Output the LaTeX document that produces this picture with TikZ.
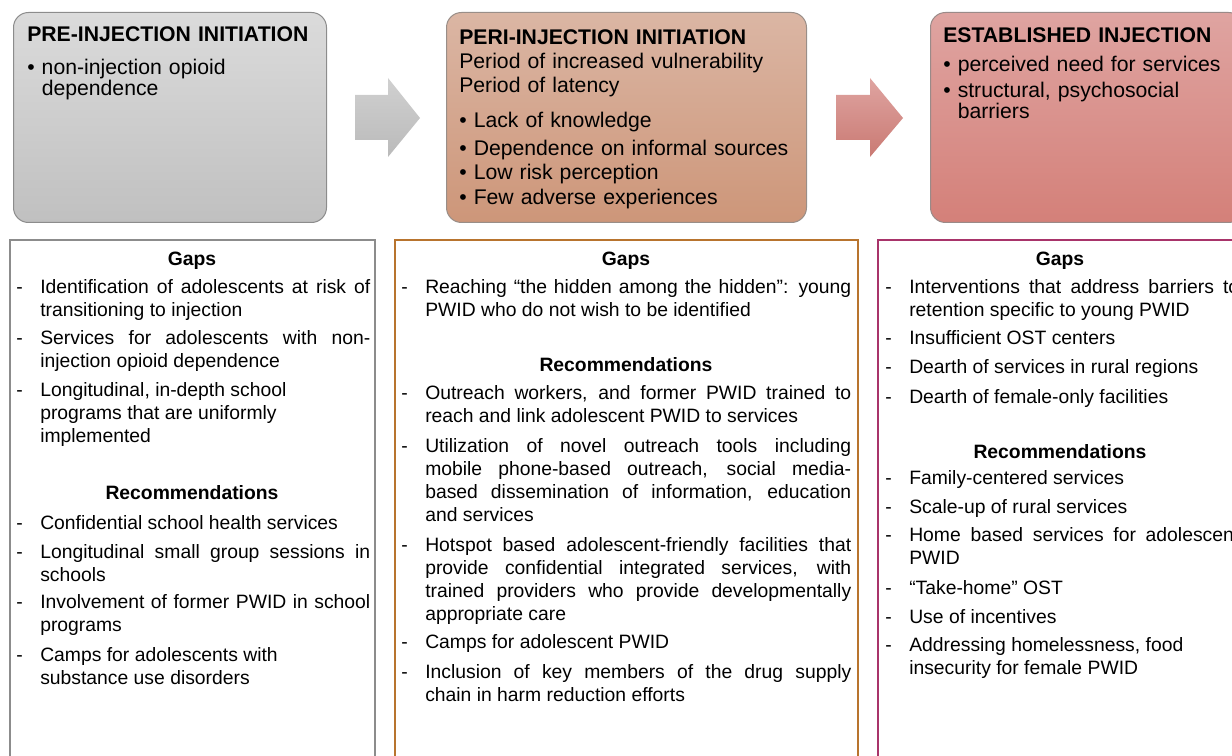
\documentclass[tikz,border=0pt]{standalone}
\usepackage{fontspec}
\setmainfont{Liberation Sans}
\usepackage{tikz}
\usetikzlibrary{positioning}
\definecolor{silvertop}{RGB}{219, 219, 219}
\definecolor{silverbot}{RGB}{192, 192, 192}
\definecolor{claytop}{RGB}{219, 182, 164}
\definecolor{claybot}{RGB}{205, 150, 121}
\definecolor{rosetop}{RGB}{223, 164, 161}
\definecolor{rosebot}{RGB}{212, 128, 121}
\definecolor{ash}{RGB}{140, 140, 140}
\definecolor{ochre}{RGB}{184, 116, 46}
\definecolor{plum}{RGB}{168, 52, 106}
\newcommand{\bul}{\textbullet\ }
\newcommand{\bulgap}{\phantom{\textbullet\ }}
\newcommand{\dashitem}[1]{\hangindent=18pt\hangafter=1\makebox[18pt][l]{-}#1\par}

\begin{document}
\begin{tikzpicture}[x=0.75pt, y=-0.75pt,
    stage/.style={draw, line width=0.75pt, rounded corners=11.25pt, anchor=north west,
                  minimum height=157.5pt, inner sep=0pt},
    stagetext/.style={anchor=base west, inner sep=0pt, text width=#1, align=left,
                  font=\fontsize{15.9}{15.75}\selectfont},
    panel/.style={draw, line width=1.5pt, anchor=north west, minimum height=402pt, inner sep=0pt},
    panelhead/.style={anchor=base, inner sep=0pt, font=\fontsize{14.5}{17.25}\selectfont\bfseries},
    panelitem/.style={anchor=base west, inner sep=0pt, text width=#1, align=justify,
                  font=\fontsize{14.5}{17.25}\selectfont}]
\useasboundingbox (0,0) rectangle (1232,756);
\clip (0,0) rectangle (1232,756);

% stages
\node[stage, draw=ash, top color=silvertop, bottom color=silverbot, minimum width=234.75pt]   (pre)  at ( 13,12) {};
\node[stage, draw=ash!80!claybot, top color=claytop, bottom color=claybot, minimum width=270pt] (peri) at (446,12) {};
\node[stage, draw=ash!80!rosebot, top color=rosetop, bottom color=rosebot, minimum width=234.75pt] (est) at (930,12) {};

\path[top color=silvertop!95!black, bottom color=silverbot!97!black]
    (355,95) -- (388,95) -- (388,78) -- (420,118) -- (388,157) -- (388,140) -- (355,140) -- cycle;
\path[top color=rosetop, bottom color=rosebot!95!black]
    (836,95) -- (870,95) -- (870,78) -- (903,118) -- (870,157) -- (870,140) -- (836,140) -- cycle;

\node[stagetext=224pt] (pretext) at (27,42)
    {\textbf{PRE-INJECTION INITIATION}\\[9pt]\bul non-injection opioid\\\bulgap dependence};
\node[stagetext=254pt] (peritext) at (459,45)
    {\textbf{PERI-INJECTION INITIATION}\\[2.25pt]Period of increased vulnerability\\[2.25pt]Period of latency\\[10.5pt]%
     \bul Lack of knowledge\\[5.25pt]\bul Dependence on informal sources\\[2.25pt]\bul Low risk perception\\[3pt]\bul Few adverse experiences};
\node[stagetext=217pt] (esttext) at (943,43)
    {\textbf{ESTABLISHED INJECTION}\\[6pt]\bul perceived need for services\\[3.75pt]\bul structural, psychosocial\\\bulgap barriers};

% gaps and recommendations
\node[panel, draw=ash,   minimum width=273.75pt] (prepanel)  at (  9,239) {};
\node[panel, draw=ochre, minimum width=347.25pt] (peripanel) at (394,239) {};
\node[panel, draw=plum,  minimum width=274.5pt]  (estpanel)  at (877,239) {};

\node[panelhead] (pregaps) at (192,265) {Gaps};
\node[panelitem=265.5pt] (pregap1) at (16,293) {\dashitem{Identification of adolescents at risk of\linebreak transitioning to injection}};
\node[panelitem=265.5pt] (pregap2) at (16,344) {\dashitem{Services for adolescents with non-\linebreak injection opioid dependence}};
\node[panelitem=265.5pt] (pregap3) at (16,396) {\dashitem{Longitudinal, in-depth school\newline programs that are uniformly\newline implemented}};
\node[panelhead] (prerecs) at (192,499) {Recommendations};
\node[panelitem=265.5pt] (prerec1) at (16,529) {\dashitem{Confidential school health services}};
\node[panelitem=265.5pt] (prerec2) at (16,558) {\dashitem{Longitudinal small group sessions in\linebreak schools}};
\node[panelitem=265.5pt] (prerec3) at (16,608) {\dashitem{Involvement of former PWID in school\linebreak programs}};
\node[panelitem=265.5pt] (prerec4) at (16,661) {\dashitem{Camps for adolescents with\newline substance use disorders}};

\node[panelhead] (perigaps) at (626,265) {Gaps};
\node[panelitem=337.5pt] (perigap1) at (401,293) {\dashitem{Reaching “the hidden among the hidden”: young\linebreak PWID who do not wish to be identified}};
\node[panelhead] (perirecs) at (626,371) {Recommendations};
\node[panelitem=337.5pt] (perirec1) at (401,399) {\dashitem{Outreach workers, and former PWID trained to\linebreak reach and link adolescent PWID to services}};
\node[panelitem=337.5pt] (perirec2) at (401,452) {\dashitem{Utilization of novel outreach tools including\linebreak mobile phone-based outreach, social media-\linebreak based dissemination of information, education\linebreak and services}};
\node[panelitem=337.5pt] (perirec3) at (401,551) {\dashitem{Hotspot based adolescent-friendly facilities that\linebreak provide confidential integrated services, with\linebreak trained providers who provide developmentally\linebreak appropriate care}};
\node[panelitem=337.5pt] (perirec4) at (401,648) {\dashitem{Camps for adolescent PWID}};
\node[panelitem=337.5pt] (perirec5) at (401,678) {\dashitem{Inclusion of key members of the drug supply\linebreak chain in harm reduction efforts}};

\node[panelhead] (estgaps) at (1060,265) {Gaps};
\node[panelitem=265.5pt] (estgap1) at (885,293) {\dashitem{Interventions that address barriers to\linebreak retention specific to young PWID}};
\node[panelitem=265.5pt] (estgap2) at (885,344) {\dashitem{Insufficient OST centers}};
\node[panelitem=265.5pt] (estgap3) at (885,373) {\dashitem{Dearth of services in rural regions}};
\node[panelitem=265.5pt] (estgap4) at (885,403) {\dashitem{Dearth of female-only facilities}};
\node[panelhead] (estrecs) at (1060,458) {Recommendations};
\node[panelitem=265.5pt] (estrec1) at (885,484) {\dashitem{Family-centered services}};
\node[panelitem=265.5pt] (estrec2) at (885,513) {\dashitem{Scale-up of rural services}};
\node[panelitem=265.5pt] (estrec3) at (885,541) {\dashitem{Home based services for adolescent\linebreak PWID}};
\node[panelitem=265.5pt] (estrec4) at (885,594) {\dashitem{“Take-home” OST}};
\node[panelitem=265.5pt] (estrec5) at (885,623) {\dashitem{Use of incentives}};
\node[panelitem=265.5pt] (estrec6) at (885,651) {\dashitem{Addressing homelessness, food\newline insecurity for female PWID}};
\end{tikzpicture}
\end{document}
